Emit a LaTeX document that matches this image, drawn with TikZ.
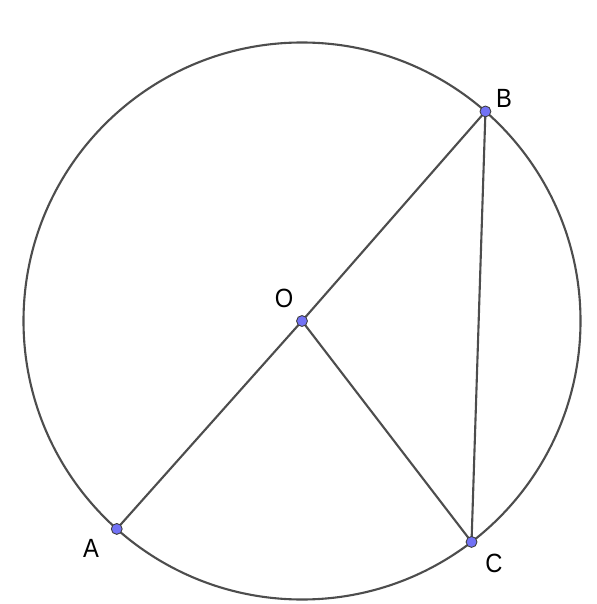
\documentclass[tikz,border=0pt]{standalone}
\usepackage{fontspec}
\setmainfont{Liberation Sans}
\usetikzlibrary{calc, positioning}
\definecolor{linegray}{RGB}{77,77,77}
\definecolor{ptblue}{RGB}{114,114,245}

\begin{document}
\begin{tikzpicture}[x=0.02cm, y=-0.02cm, line width=1.2pt,
		pt/.style={circle, draw=linegray!80!black, fill=ptblue, line width=0.5pt, inner sep=0pt, minimum size=6.2pt},
		lbl/.style={font=\fontsize{15}{15}\selectfont, xscale=0.9}]
			\useasboundingbox (0,0) rectangle (597,604);
			\coordinate (cO) at (302,321);
			\coordinate (cB) at ($(cO)+(48.8:278.5 and -278.5)$);
			\coordinate (cA) at ($(cO)+(228.3:278.5 and -278.5)$);
			\coordinate (cC) at ($(cO)+(-52.5:278.5 and -278.5)$);
			
			\draw[linegray] (cO) circle[radius=278.5];
			\draw[linegray] (cA) -- (cO) -- (cB) -- (cC) -- (cO);
			
			\node[pt] (O) at (cO) {};
			\node[pt] (B) at (cB) {};
			\node[pt] (A) at (cA) {};
			\node[pt] (C) at (cC) {};
			
			\node[lbl] (lO) at (284,298) {O};
			\node[lbl] (lB) at (504,98) {B};
			\node[lbl] (lA) at (91,548) {A};
			\node[lbl] (lC) at (494,563) {C};
			\end{tikzpicture}
\end{document}
